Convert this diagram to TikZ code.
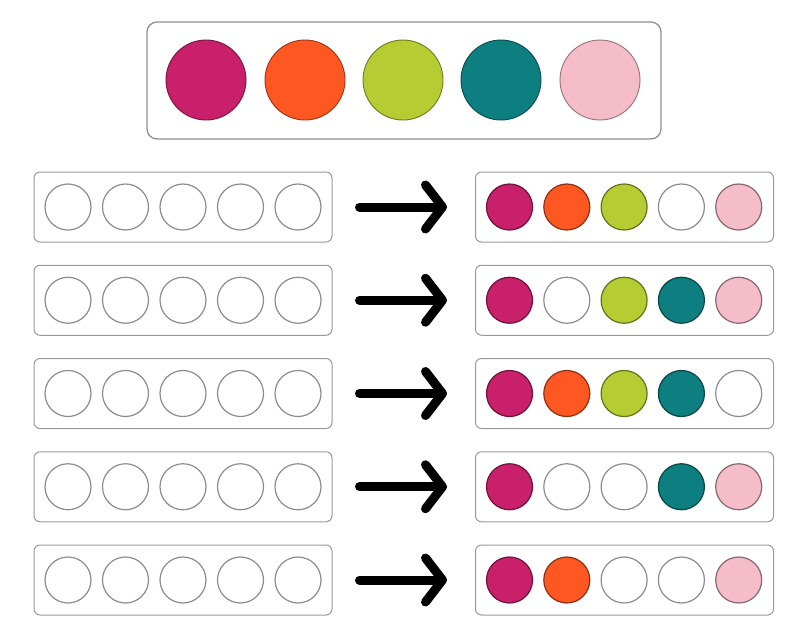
\documentclass[tikz,border=0pt]{standalone}
\usetikzlibrary{arrows.meta,calc}
\definecolor{berry}{HTML}{C8206A}
\definecolor{tangerine}{HTML}{FF5722}
\definecolor{lime}{HTML}{B5CD32}
\definecolor{teal}{HTML}{0E7F80}
\definecolor{blush}{HTML}{F5BCC9}
\tikzset{ bigtray/.style = { rectangle % palette box
, rounded corners = 10pt
, draw = gray!90
, line width = 1.2pt
, minimum width = 514pt
, minimum height = 117pt
}
, tray/.style = { rectangle % row box
, rounded corners = 6pt
, draw = gray!80
, line width = 1pt
, minimum width = 298pt
, minimum height = 70pt
}
, bead/.style = { circle % big colour
, inner sep = 0pt
, minimum size = 80pt
, line width = 0.9pt
, fill = #1
, draw = #1!60!black
}
, hole/.style = { circle % small colour
, inner sep = 0pt
, minimum size = 46pt
, line width = 1.2pt
, fill = #1
, draw = #1!55!black
}
}

\begin{document}
\begin{tikzpicture}[x=1pt, y=-1pt,
        flow/.style={draw=black, line width=9pt, line cap=round,
            -{Straight Barb[length=17pt, width=44pt, round]},
            shorten <=27pt, shorten >=28pt}]
        \useasboundingbox (0,0) rectangle (800,632);

            % palette
            \node [bigtray](pal) at (404,80.5) {};
            \node [bead=berry](p1) at (206,80) {};
            \node [bead=tangerine](p2) at (305,80) {};
            \node [bead=lime](p3) at (403,80) {};
            \node [bead=teal](p4) at (501,80) {};
            \node [bead=blush](p5) at (600,80) {};

            % rows
            \node [tray](l1) at (183,207) {};
            \node [tray](r1) at (624.5,207) {};
            \node [tray](l2) at (183,300.25) {};
            \node [tray](r2) at (624.5,300.25) {};
            \node [tray](l3) at (183,393.5) {};
            \node [tray](r3) at (624.5,393.5) {};
            \node [tray](l4) at (183,486.75) {};
            \node [tray](r4) at (624.5,486.75) {};
            \node [tray](l5) at (183,580) {};
            \node [tray](r5) at (624.5,580) {};

            \foreach \row/\cola/\colb/\colc/\cold/\cole in {%
                1/berry/tangerine/lime/white/blush,
                2/berry/white/lime/teal/blush,
                3/berry/tangerine/lime/teal/white,
                4/berry/white/white/teal/blush,
                5/berry/tangerine/white/white/blush}
            {
                \foreach \k/\col in {1/\cola,2/\colb,3/\colc,4/\cold,5/\cole}
                {
                    \node [hole=white](l\row h\k) at ($(l\row.center)+(-115pt+57.5pt*\k-57.5pt,0)$) {};
                    \node [hole=\col](r\row h\k) at ($(r\row.center)+(-115pt+57.3pt*\k-57.3pt,0)$) {};
                }
                \draw [flow] (l\row) -- (r\row);
            }

\end{tikzpicture}
\end{document}
